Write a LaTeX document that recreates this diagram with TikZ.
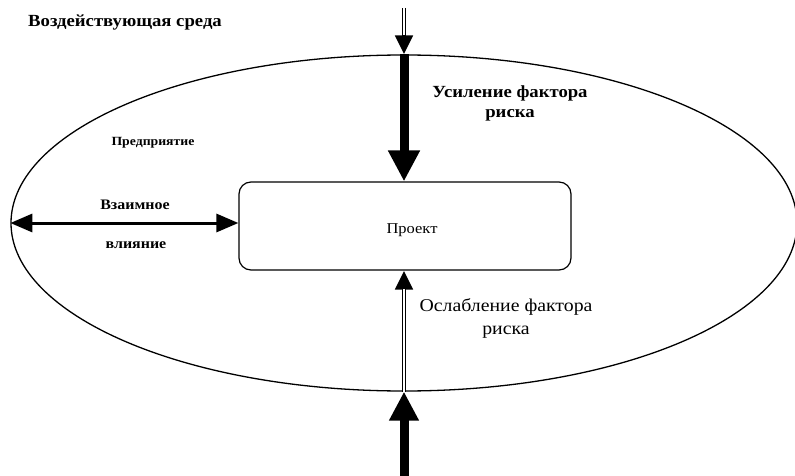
\documentclass[tikz,border=0pt]{standalone}
\usepackage{fontspec}
\setmainfont{Liberation Serif}
\newfontfamily\widefont[FakeStretch=1.1]{Liberation Serif}
\usetikzlibrary{arrows.meta,shapes.geometric}

\tikzset{
  lbl/.style={inner sep=0pt},
  bigarrow/.style={line width=9pt, -{Triangle[length=31pt,width=30pt]}},
  hollowtip/.style={line width=4.5pt, -{Triangle[length=19pt,width=17pt]}},
  hollowcore/.style={white, line width=2.2pt},
  mutual/.style={line width=3pt, {Triangle[length=22pt,width=18pt]}-{Triangle[length=22pt,width=18pt]}}
}

\begin{document}
\begin{tikzpicture}[x=1pt,y=-1pt]
  \useasboundingbox (0,0) rectangle (795,476);

  % enterprise boundary and the project box
  \node[ellipse, draw, line width=1.3pt, minimum width=786pt, minimum height=336pt, inner sep=0pt] (env) at (404,223) {};
  \node[draw, line width=1.2pt, rounded corners=12pt, minimum width=332pt, minimum height=88pt, inner sep=0pt] (proj) at (405,226) {};

  \coordinate (topin) at (404,8);
  \coordinate (botin) at (404,476);

  % strengthening of the risk factor, from above
  \draw[hollowtip] (topin) -- (env.north);
  \draw[hollowcore, shorten >=19pt] (topin) -- (env.north);
  \draw[bigarrow] (env.north) -- (env.north |- proj.north);

  % weakening of the risk factor, from below
  \draw[bigarrow, -{Triangle[length=29pt,width=28pt]}] (botin) -- (env.south);
  \draw[hollowtip] (env.south) -- (env.south |- proj.south);
  \draw[hollowcore, shorten >=18pt] (env.south) -- (env.south |- proj.south);

  % mutual influence between enterprise and project
  \draw[mutual] (env.west) -- (env.west -| proj.west);

  % labels
  \node[lbl, font=\widefont\bfseries\fontsize{17}{20}\selectfont, anchor=west] (tenv) at (28,22) {Воздействующая среда};
  \node[lbl, font=\widefont\bfseries\fontsize{12.5}{15}\selectfont] (tent) at (153,143) {Предприятие};
  \node[lbl, font=\widefont\bfseries\fontsize{14.5}{17}\selectfont] (tmut1) at (135,205) {Взаимное};
  \node[lbl, font=\widefont\bfseries\fontsize{14.5}{17}\selectfont] (tmut2) at (136,245) {влияние};
  \node[lbl, font=\widefont\fontsize{15}{18}\selectfont] (tproj) at (412,230) {Проект};
  \node[lbl, font=\widefont\bfseries\fontsize{17}{20}\selectfont, align=center] (tup) at (510,103) {Усиление фактора\\риска};
  \node[lbl, font=\widefont\fontsize{18}{23}\selectfont, align=center] (tdown) at (506,318) {Ослабление фактора\\риска};
\end{tikzpicture}
\end{document}
